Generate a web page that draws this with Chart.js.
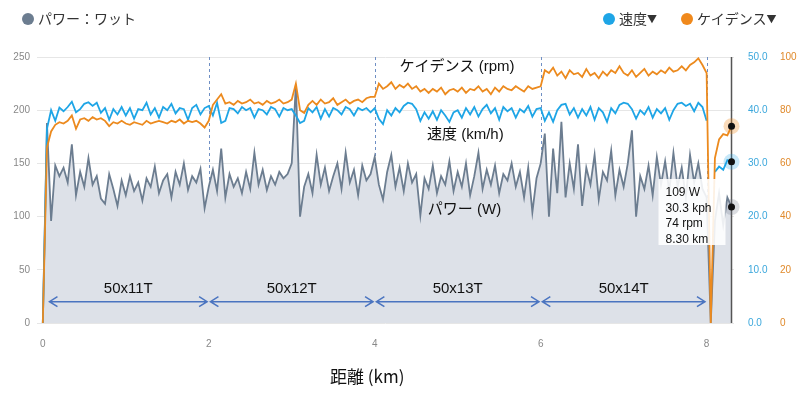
<!DOCTYPE html>
<html>
<head>
<meta charset="utf-8">
<script src="https://cdn.jsdelivr.net/npm/chart.js@4/dist/chart.umd.min.js"></script>
<style>
  body { margin: 0; background: #fff; }
  #wrap { position: relative; width: 800px; height: 395px; font-family: "Liberation Sans", "Noto Sans CJK JP", sans-serif; }
  .leg { position: absolute; top: 9px; font-size: 14px; color: #333; line-height: 18px; white-space: nowrap; font-family: "Noto Sans CJK JP", sans-serif; }
  .dot { display: inline-block; width: 12px; height: 12px; border-radius: 50%; vertical-align: -1px; margin-right: 4px; }
  .tri { font-size: 10px; vertical-align: 1px; }
  #xtitle { position: absolute; left: 330px; top: 363px; font-size: 17px; color: #111; font-family: "Noto Sans CJK JP", sans-serif; }
</style>
</head>
<body>
<div id="wrap">
  <canvas id="chart" width="800" height="395"></canvas>
  <div class="leg" style="left:22px"><span class="dot" style="background:#6c7d90"></span>パワー：ワット</div>
  <div class="leg" style="left:603px"><span class="dot" style="background:#1ea5e6"></span>速度<span class="tri">▼</span></div>
  <div class="leg" style="left:681px"><span class="dot" style="background:#f0891c"></span>ケイデンス<span class="tri">▼</span></div>
  <div id="xtitle">距離 (km)</div>
</div>
<script>
// samples every 0.05 km
const STEP = 0.05;

const power = [
  0, 188, 96, 148, 138, 146, 132, 168, 120, 142, 128, 155, 130, 138, 117, 112, 140, 126, 110, 134,
  120, 138, 124, 132, 115, 136, 128, 147, 122, 134, 140, 118, 142, 130, 150, 125, 138, 132, 145, 108,
  128, 144, 124, 164, 118, 140, 128, 136, 122, 142, 126, 160, 130, 144, 125, 138, 130, 142, 136, 140,
  150, 224, 100, 128, 140, 122, 158, 130, 146, 124, 138, 150, 126, 160, 132, 144, 120, 148, 134, 140,
  156, 130, 116, 142, 158, 128, 146, 124, 150, 132, 140, 101, 136, 126, 148, 122, 138, 130, 152, 124,
  142, 128, 150, 120, 138, 160, 126, 144, 130, 148, 122, 140, 134, 150, 128, 142, 118, 146, 104, 136,
  150, 178, 100, 164, 122, 189, 118, 150, 126, 168, 110, 146, 130, 158, 116, 142, 134, 162, 120, 144,
  128, 150, 181, 100, 138, 126, 148, 120, 156, 130, 152, 124, 160, 128, 146, 118, 158, 132, 150, 126,
  118, 0, 96, 122, 92, 118, 109
];

const speed = [
  0, 36.5, 40, 38, 40.5, 39.8, 40.6, 41.6, 39.6, 40.2, 41.2, 41.5, 40.8, 41.4, 39.5, 40.4, 38.2, 40.2, 39.2, 40.6,
  39.0, 40.4, 38.4, 40.2, 40.0, 41.4, 39.2, 40.4, 38.6, 40.6, 40.0, 41.2, 39.4, 40.4, 40.2, 38.2, 40.4, 41.0, 39.2, 40.4,
  40.8, 39.0, 41.4, 37.6, 38.0, 40.4, 40.2, 39.4, 40.6, 40.0, 40.4, 38.6, 40.2, 40.0, 39.2, 40.6, 40.2, 38.8, 40.4, 40.0,
  40.2, 39.0, 37.6, 38.0, 40.4, 39.6, 40.6, 38.4, 40.2, 38.8, 40.4, 40.0, 39.2, 40.6, 40.2, 39.0, 40.4, 40.0, 40.4, 39.6,
  40.4, 38.4, 37.4, 40.0, 39.0, 40.4, 39.6, 40.8, 41.4, 41.2, 40.2, 38.0, 39.6, 38.4, 39.8, 38.2, 40.0, 39.0, 37.8, 39.6,
  40.0, 38.6, 40.4, 39.2, 40.6, 38.8, 40.2, 41.0, 39.4, 40.4, 38.2, 40.6, 39.8, 40.4, 38.6, 40.2, 39.6, 40.8, 38.8, 40.2,
  40.4, 38.0, 39.6, 37.8, 40.0, 41.0, 41.2, 39.2, 40.4, 38.6, 40.2, 39.0, 40.6, 38.2, 40.4, 39.6, 37.8, 40.4, 39.4, 41.0,
  41.4, 41.2, 40.2, 38.4, 40.0, 39.2, 40.6, 38.6, 40.2, 39.4, 40.4, 38.2, 40.0, 41.2, 41.4, 40.8, 41.2, 39.8, 41.4, 40.6,
  38.0, null, 28.4, 29.4, 28.8, 30.6, 30.3
];

const cadence = [
  0, 66, 72, 74.5, 75.5, 75, 76, 78, 73, 76.5, 77, 76, 77.4, 76.5, 77, 76, 74, 75.5, 75, 76,
  75, 74.5, 75.5, 75, 74.5, 76, 75, 75.5, 76, 75.5, 75, 76, 75.5, 76.5, 75, 76, 75.5, 76, 75, 73.5,
  76, 82, 84, 86, 82.5, 83, 82, 83.5, 82.5, 83, 84, 82.5, 83, 82, 83.5, 82.5, 83, 84, 82.5, 83,
  84, 90, 80, 79, 82, 83.5, 82, 84, 82.5, 83, 84.5, 82, 83, 84, 82.5, 83.5, 84, 83, 84.5, 85,
  85, 90, 88, 89, 90.5, 88, 89.5, 88.5, 90, 88, 89, 87, 88, 86.5, 88, 87, 88.5, 86, 87.5, 88,
  87, 88.5, 86.5, 88, 87.5, 89, 87, 88, 86, 88.5, 87, 89, 88, 87.5, 89, 88, 87, 89, 88, 88.5,
  89, 95, 94, 96, 93, 94.5, 92, 95, 93.5, 94, 92.5, 95.5, 93, 94, 92, 94.5, 93, 95, 94, 96.5,
  94, 93, 95, 92.5, 94, 95.5, 93, 94.5, 93.5, 95, 94, 96, 94.5, 95, 96.5, 95, 97, 98, 99.5, 97,
  94, 0, 62, 69, 71, 70.5, 74
];

const distance = power.map((_, i) => Math.round(i * STEP * 100) / 100);

const xTicks = [0, 2, 4, 6, 8];
const dividers = [2, 4, 6, 8];
const gearNames = ["50x11T", "50x12T", "50x13T", "50x14T"];
const gearFrom = [0.08, 2.02, 4.02, 6.02];
const gearTo = [1.98, 3.98, 5.98, 7.98];
const arrowLevel = 20;   // W
const gearLabelLevel = 32;
const notes = [
  { text: "ケイデンス (rpm)", km: 4.3, level: 241 },
  { text: "速度 (km/h)", km: 4.63, level: 177 },
  { text: "パワー (W)", km: 4.64, level: 106 }
];
const hoverKm = 8.3;

const FONT = '"Liberation Sans", "Noto Sans CJK JP", sans-serif';
const POWER_C = "#6c7d90", SPEED_C = "#1ea5e6", CAD_C = "#ec8a1e";

const pts = (arr) => arr.map((v, i) => ({ x: distance[i], y: v }));

const overlay = {
  id: "overlay",
  beforeDatasetsDraw(chart) {
    const { ctx, chartArea: a, scales } = chart;
    ctx.save();
    ctx.strokeStyle = "#6f8fc4";
    ctx.lineWidth = 1;
    ctx.setLineDash([3, 3]);
    dividers.forEach((d) => {
      const px = Math.round(scales.x.getPixelForValue(d)) + 0.5;
      ctx.beginPath();
      ctx.moveTo(px, a.top);
      ctx.lineTo(px, a.bottom);
      ctx.stroke();
    });
    ctx.restore();
  },
  afterDatasetsDraw(chart) {
    const { ctx, chartArea: a, scales } = chart;
    const x = scales.x, yP = scales.y, yS = scales.ySpeed, yC = scales.yCad;
    ctx.save();
    // gear arrows
    const ay = yP.getPixelForValue(arrowLevel);
    ctx.strokeStyle = "#4a74c0";
    ctx.lineWidth = 1.5;
    gearNames.forEach((name, i) => {
      const x1 = x.getPixelForValue(gearFrom[i]);
      const x2 = x.getPixelForValue(gearTo[i]);
      ctx.beginPath();
      ctx.moveTo(x1, ay); ctx.lineTo(x2, ay);
      ctx.moveTo(x1 + 8, ay - 5); ctx.lineTo(x1, ay); ctx.lineTo(x1 + 8, ay + 5);
      ctx.moveTo(x2 - 8, ay - 5); ctx.lineTo(x2, ay); ctx.lineTo(x2 - 8, ay + 5);
      ctx.stroke();
      ctx.fillStyle = "#111";
      ctx.font = "15px " + FONT;
      ctx.textAlign = "center";
      ctx.textBaseline = "middle";
      ctx.fillText(name, (x1 + x2) / 2, yP.getPixelForValue(gearLabelLevel));
    });
    // series notes
    ctx.textAlign = "left";
    ctx.font = "15px " + FONT;
    notes.forEach((n) => {
      ctx.fillText(n.text, x.getPixelForValue(n.km), yP.getPixelForValue(n.level));
    });
    // hover marker
    const idx = distance.indexOf(hoverKm);
    const hx = x.getPixelForValue(distance[idx]);
    ctx.strokeStyle = "#555";
    ctx.lineWidth = 1.5;
    ctx.beginPath();
    ctx.moveTo(hx, a.top); ctx.lineTo(hx, a.bottom);
    ctx.stroke();
    const marks = [
      [yC.getPixelForValue(cadence[idx]), "rgba(240,137,28,0.3)"],
      [yS.getPixelForValue(speed[idx]), "rgba(30,165,230,0.25)"],
      [yP.getPixelForValue(power[idx]), "rgba(110,120,135,0.25)"]
    ];
    marks.forEach(([py, halo]) => {
      ctx.fillStyle = halo;
      ctx.beginPath(); ctx.arc(hx, py, 8, 0, Math.PI * 2); ctx.fill();
      ctx.fillStyle = "#111";
      ctx.beginPath(); ctx.arc(hx, py, 3.5, 0, Math.PI * 2); ctx.fill();
    });
    // tooltip box
    const bx = hx - 73, by = a.top + 122;
    ctx.fillStyle = "rgba(255,255,255,0.88)";
    ctx.fillRect(bx, by, 67, 66);
    ctx.fillStyle = "#111";
    ctx.font = "12px " + FONT;
    const lines = [
      power[idx] + " W",
      speed[idx].toFixed(1) + " kph",
      cadence[idx] + " rpm",
      distance[idx].toFixed(2) + " km"
    ];
    lines.forEach((t, i) => ctx.fillText(t, bx + 7, by + 14 + i * 15.5));
    ctx.restore();
  }
};

new Chart(document.getElementById("chart").getContext("2d"), {
  type: "line",
  data: {
    datasets: [
      {
        label: "ケイデンス",
        data: pts(cadence),
        yAxisID: "yCad",
        borderColor: CAD_C,
        borderWidth: 1.8,
        pointRadius: 0,
        fill: false
      },
      {
        label: "速度",
        data: pts(speed),
        yAxisID: "ySpeed",
        borderColor: SPEED_C,
        borderWidth: 1.8,
        pointRadius: 0,
        spanGaps: false,
        fill: false
      },
      {
        label: "パワー",
        data: pts(power),
        yAxisID: "y",
        borderColor: POWER_C,
        backgroundColor: "#dde1e8",
        borderWidth: 1.8,
        pointRadius: 0,
        fill: "origin"
      }
    ]
  },
  options: {
    responsive: false,
    animation: false,
    events: [],
    layout: { padding: { top: 57, left: 0, right: 0, bottom: 0 } },
    plugins: { legend: { display: false }, tooltip: { enabled: false } },
    scales: {
      x: {
        type: "linear",
        min: -0.07,
        max: 8.33,
        afterBuildTicks: (axis) => {
          axis.ticks = xTicks.map((v) => ({ value: v }));
        },
        afterFit: (axis) => { axis.height = 72; },
        grid: { display: false },
        border: { display: false },
        ticks: { color: "#888", padding: 7, font: { size: 10, family: FONT } }
      },
      y: {
        position: "left",
        min: 0,
        max: 250,
        afterFit: (axis) => { axis.width = 37; },
        grid: { color: "#e6e6e6", drawTicks: false },
        border: { display: false },
        ticks: { stepSize: 50, color: "#888", padding: 7, font: { size: 10, family: FONT } }
      },
      ySpeed: {
        position: "right",
        min: 0,
        max: 50,
        afterFit: (axis) => { axis.width = 38; },
        grid: { display: false, drawTicks: false },
        border: { display: false },
        ticks: {
          stepSize: 10,
          color: "#3ba7dc",
          padding: 14,
          font: { size: 10, family: FONT },
          callback: (v) => v.toFixed(1)
        }
      },
      yCad: {
        position: "right",
        min: 0,
        max: 100,
        afterFit: (axis) => { axis.width = 28; },
        grid: { display: false, drawTicks: false },
        border: { display: false },
        ticks: { stepSize: 20, color: "#e08a2c", padding: 8, font: { size: 10, family: FONT } }
      }
    }
  },
  plugins: [overlay]
});
</script>
</body>
</html>
